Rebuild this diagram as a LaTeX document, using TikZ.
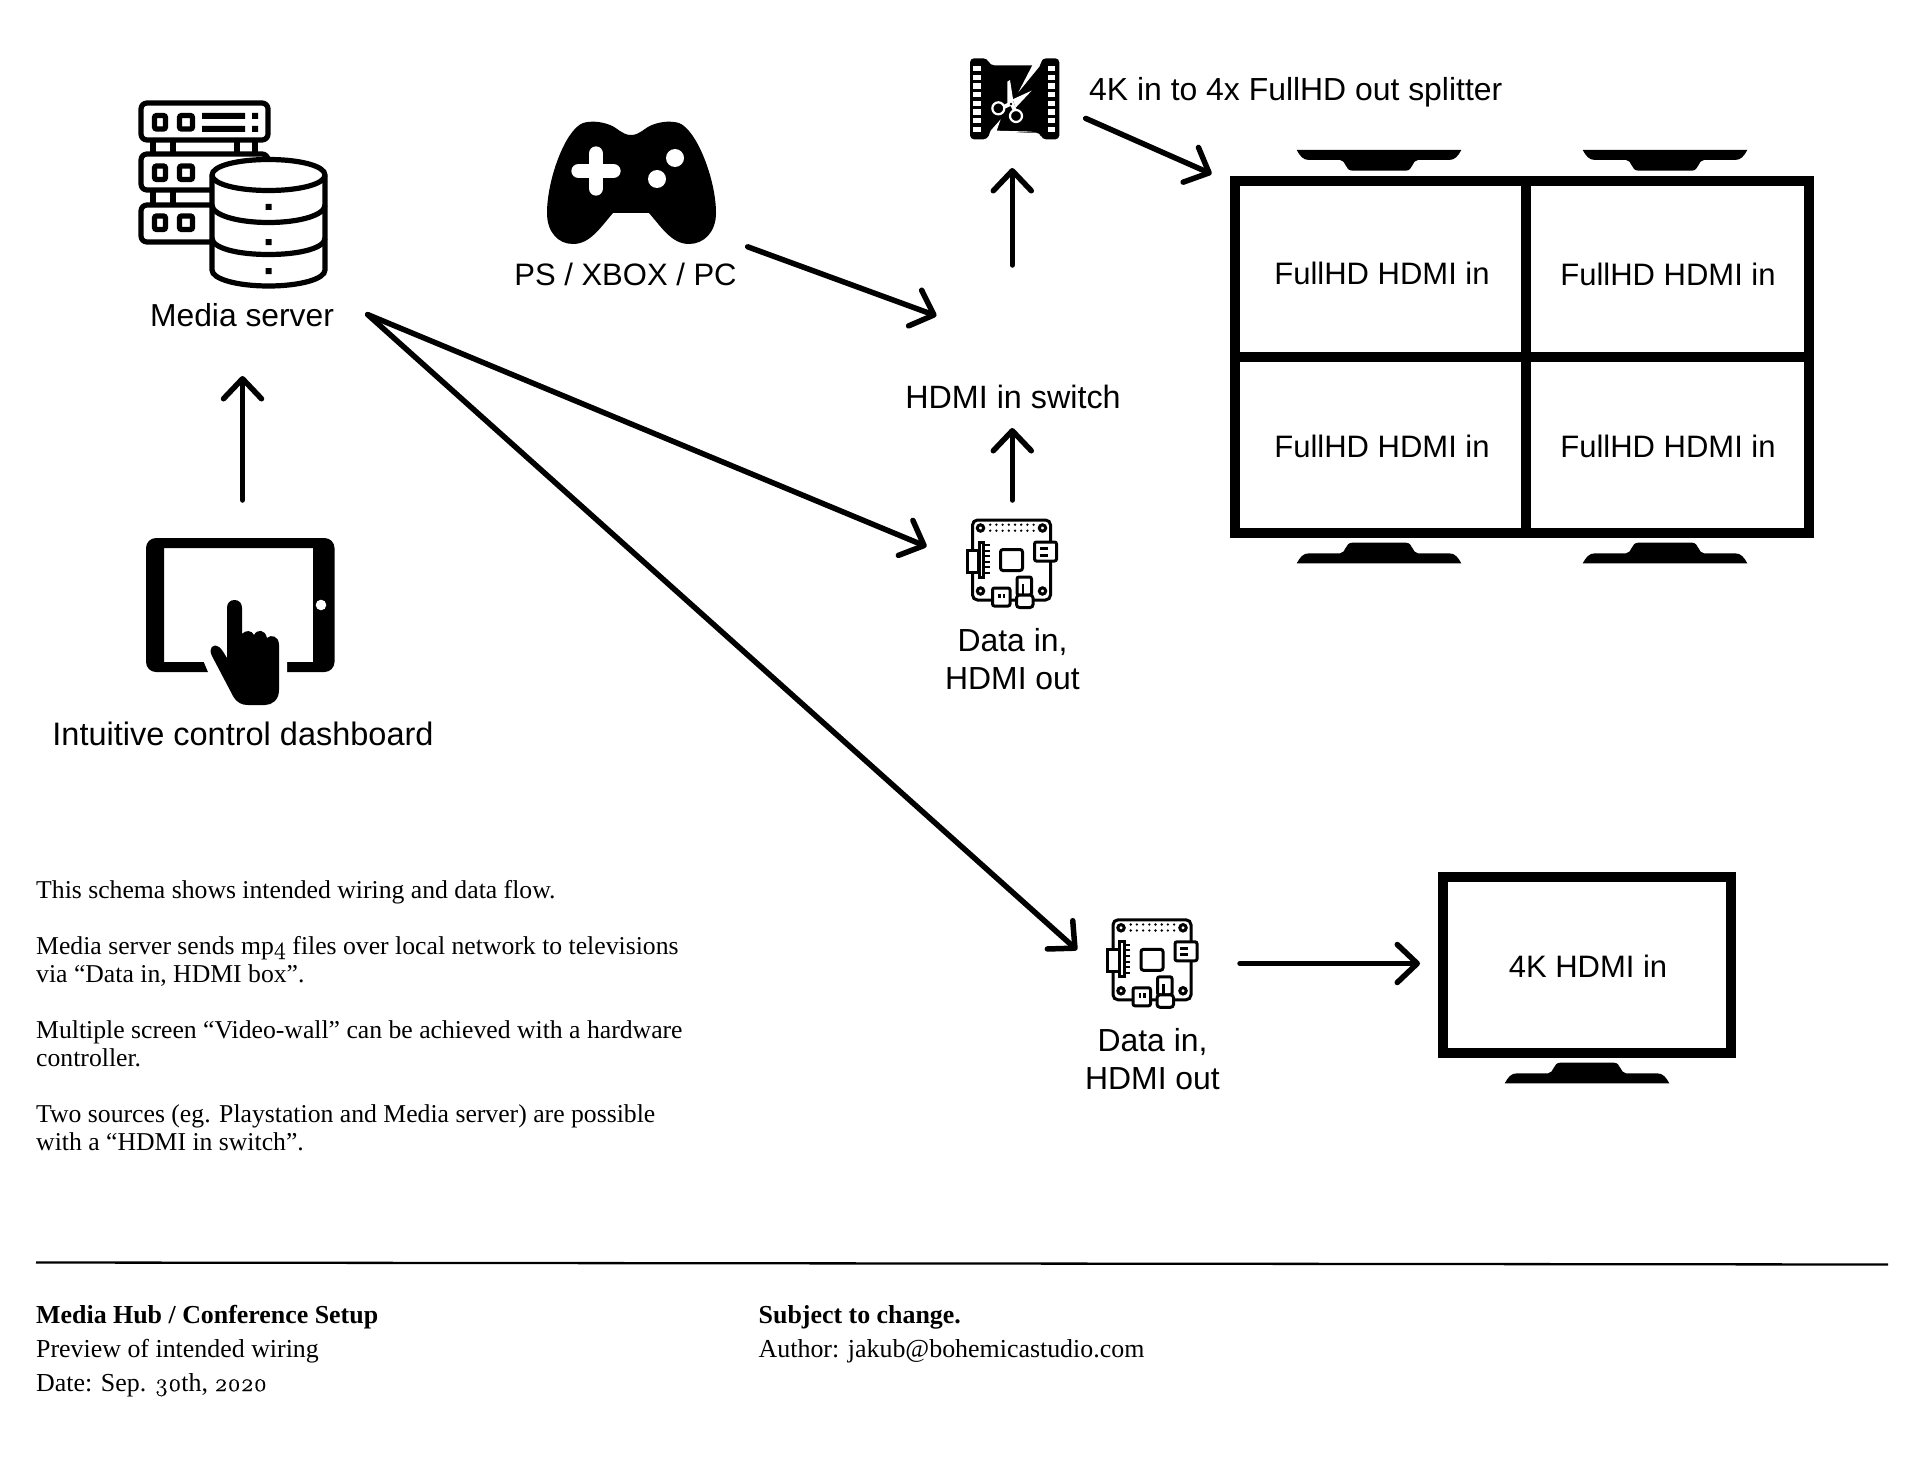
\documentclass[tikz,border=0pt]{standalone}
\usepackage{fontspec}
\setmainfont{Liberation Serif}
\newfontfamily\labelfont{Liberation Sans}
\newfontfamily\oldfig{Latin Modern Roman}[Numbers=OldStyle,FakeBold=0.5,Scale=0.97]
\usetikzlibrary{arrows.meta}
\tikzset{
  lab/.style={font=\labelfont\fontsize{#1}{38}\selectfont,inner sep=0pt,anchor=base,align=center},
  lab/.default=31,
  note/.style={font=\fontsize{25.7}{28}\selectfont,inner sep=0pt,anchor=north west,align=left},
  foot/.style={font=\fontsize{25.9}{34.3}\selectfont,inner sep=0pt,anchor=base west},
  wire/.style={line width=5.5pt,line cap=round,-{Straight Barb[length=20pt,width=38pt,line width=5.5pt,round]}},
  rack/.style={line width=5.2pt,rounded corners=6pt,fill=white},
  stk/.style={line width=5.2pt},
  boardline/.style={line width=3pt,fill=white},
  wallline/.style={line width=10pt},
  stand/.pic={\fill (-82.3,0) .. controls (-79,-6) and (-76,-10) .. (-70,-10) -- (-39,-10) .. controls (-33,-10) and (-34,-20.6) .. (-27,-20.6) -- (27,-20.6) .. controls (34,-20.6) and (33,-10) .. (39,-10) -- (70,-10) .. controls (76,-10) and (79,-6) .. (82.3,0) -- cycle;},
  board/.pic={
    \draw[boardline,rounded corners=5pt] (13,11) rectangle (91,91);
    \foreach \cx/\cy in {21/19,83/19,21/82,83/82}{\draw[line width=3pt] (\cx,\cy) circle (3.2);}
    \foreach \i in {0,...,7}{\fill (30.7+6.2*\i,15.7) circle (1.3); \fill (30.7+6.2*\i,21.7) circle (1.3);}
    \draw[boardline,rounded corners=2.5pt] (41,40.5) rectangle (63,61.5);
    \draw[boardline] (7.5,41) rectangle (19,63);
    \draw[boardline] (19.5,33) rectangle (24,68);
    \foreach \i in {0,...,5}{\draw[line width=2pt] (24,36+5.6*\i) -- (30,36+5.6*\i);}
    \draw[boardline,rounded corners=2pt] (75,33) rectangle (97,52);
    \draw[line width=3pt] (80,39.5) -- (88,39.5) (80,46) -- (88,46);
    \draw[boardline,rounded corners=2pt] (33,79) rectangle (50.5,97);
    \draw[line width=2.4pt] (40,84.5) -- (40,89) (44.5,84.5) -- (44.5,89);
    \draw[boardline,rounded corners=2pt] (57.5,68) rectangle (72,86);
    \draw[line width=2.4pt] (63.5,75) -- (63.5,86);
    \draw[boardline,rounded corners=3pt] (57,86) rectangle (73.5,98.5);
  }
}
\begin{document}
\begin{tikzpicture}[x=1pt,y=-1pt]
\useasboundingbox (0,0) rectangle (1932,1474);

% Media server icon
\draw[rack] (141,103) rectangle (268,140);
\draw[stk] (153,140) -- (153,154) (173,140) -- (173,154) (237,140) -- (237,154) (255,140) -- (255,154);
\draw[stk] (153,190) -- (153,205) (173,190) -- (173,205);
\draw[rack] (141,154) rectangle (268,190);
\draw[rack] (141,205) rectangle (268,242);
\foreach \yy in {115.5,166,216}{
  \draw[stk,rounded corners=2pt] (154.5,\yy) rectangle (165.5,\yy+13.5);
  \draw[stk,rounded corners=2pt] (179.5,\yy) rectangle (192.5,\yy+13.5);
}
\fill (202,113) rectangle (245,119) (202,126) rectangle (245,132);
\fill (252,113) rectangle (258,119) (252,126) rectangle (258,132);
\draw[stk,fill=white] (212,175) .. controls (212,166) and (237,159.5) .. (268.5,159.5) .. controls (300,159.5) and (325,166) .. (325,175) -- (325,270) .. controls (325,279) and (300,286) .. (268.5,286) .. controls (237,286) and (212,279) .. (212,270) -- cycle;
\draw[stk] (212,175) .. controls (212,184) and (237,190.5) .. (268.5,190.5) .. controls (300,190.5) and (325,184) .. (325,175);
\draw[stk] (212,205) .. controls (212,215) and (237,222.5) .. (268.5,222.5) .. controls (300,222.5) and (325,215) .. (325,205);
\draw[stk] (212,238) .. controls (212,248) and (237,254.5) .. (268.5,254.5) .. controls (300,254.5) and (325,248) .. (325,238);
\fill (265.5,204) rectangle (271.5,210) (265.5,239) rectangle (271.5,245) (265.5,268) rectangle (271.5,274);
\node[lab=31.8] (mediaserver) at (242,326.5) {Media server};

% Tablet icon
\fill[even odd rule] (156,538) -- (324.5,538) arc[start angle=-90,end angle=0,radius=10] -- (334.5,662) arc[start angle=0,end angle=90,radius=10] -- (156,672) arc[start angle=90,end angle=180,radius=10] -- (146,548) arc[start angle=180,end angle=270,radius=10] -- cycle (164,548) rectangle (313,662);
\fill[white] (203,660) -- (208.5,673) -- (287,673) -- (287,660) -- cycle;
\fill[white] (321,605) circle (5.3);
\fill (227,608) .. controls (227,603) and (230,600) .. (234.5,600) .. controls (239,600) and (242,603) .. (242,608) -- (242,634) .. controls (245,630) and (252,630) .. (254,635) .. controls (257,629) and (265,629) .. (267,638) .. controls (271,634) and (279,636) .. (279,645) -- (279,690) .. controls (279,700) and (272,705) .. (265,705) -- (248,705) .. controls (242,705) and (237,703) .. (233,696) -- (212,656) .. controls (208,648) and (213,643) .. (219,647) .. controls (222,649) and (225,655) .. (227,658) -- cycle;
\node[lab=32.5] (dashboard) at (243,745) {Intuitive control dashboard};

% Gamepad icon
\fill (631,135) .. controls (622,135) and (618,128) .. (610,125) .. controls (600,121) and (590,121) .. (583,123) .. controls (565,130) and (547,180) .. (547,213) .. controls (547,232) and (558,244) .. (573,244) .. controls (590,244) and (600,228) .. (613,213) -- (649,213) .. controls (662,228) and (672,244) .. (689,244) .. controls (704,244) and (716,232) .. (716,213) .. controls (716,180) and (697,130) .. (679,123) .. controls (672,121) and (662,121) .. (652,125) .. controls (644,128) and (640,135) .. (631,135) -- cycle;
\draw[white,line width=14.7pt,line cap=round] (596,153.7) -- (596,188.3) (578.7,171) -- (613.3,171);
\fill[white] (675,158) circle (9) (657,179) circle (9);
\node[lab] (console) at (625.5,285) {PS / XBOX / PC};

% Film cutter icon
\begin{scope}[shift={(950,40)},scale=0.3333]
  \fill[rounded corners=4pt] (60,55) -- (112,55) -- (120,76) -- (270,76) -- (276,55) -- (328,55) -- (328,298) -- (276,298) -- (270,278) -- (120,278) -- (112,298) -- (60,298) -- cycle;
  \foreach \i in {0,...,7}{
    \fill[white] (70,78+26*\i) rectangle (93,94+26*\i);
    \fill[white] (293,78+26*\i) rectangle (316,94+26*\i);
  }
  \fill[white] (248,74) -- (280,50) -- (268,80) -- (205,157) -- cycle;
  \fill[white] (152,238) -- (122,272) -- (112,300) -- (130,283) -- (248,275) -- (140,272) -- cycle;
  \fill[white] (172,125) -- (180,120) -- (191,190) -- (172,190) -- cycle;
  \fill[white] (245,152) -- (188,178) -- (197,203) -- cycle;
  \draw[white,line width=2.2pt] (145,205) circle (18) (198,228) circle (18);
  \draw[white,line width=4pt] (163,200) -- (185,190) (185,190) -- (195,212);
  \fill (183,192) circle (4);
\end{scope}
\node[lab=31.9,anchor=base west] (splitter) at (1089,101) {4K in to 4x FullHD out splitter};

% Boards
\pic at (959.5,509) {board};
\node[lab=31.9] (data1) at (1012.5,689.5) {Data in,\\HDMI out};
\pic at (1100,908.8) {board};
\node[lab=31.9] (data2) at (1152.5,1089.5) {Data in,\\HDMI out};
\node[lab=32.3] (switch) at (1013,408) {HDMI in switch};

% Video wall
\draw[wallline] (1234.8,180.8) rectangle (1809.2,532.8);
\draw[wallline] (1526,180.8) -- (1526,532.8) (1234.8,357) -- (1809.2,357);
\pic[yscale=-1] at (1379,150) {stand};
\pic[yscale=-1] at (1665,150) {stand};
\pic at (1379,563.3) {stand};
\pic at (1665,563.3) {stand};
\node[lab] (w1) at (1382,284) {FullHD HDMI in};
\node[lab] (w2) at (1668,285.7) {FullHD HDMI in};
\node[lab] (w3) at (1382,457.3) {FullHD HDMI in};
\node[lab] (w4) at (1668,457.3) {FullHD HDMI in};

% Single TV
\draw[wallline] (1442.8,877.3) rectangle (1731.3,1052.8);
\pic at (1587,1083.3) {stand};
\node[lab] (tv) at (1588,977.3) {4K HDMI in};

% Connector ends
\coordinate (dashOut) at (242.5,500);
\coordinate (srvIn) at (242.5,376);
\coordinate (srvOut) at (367.7,314.6);
\coordinate (brdAIn) at (926.6,546.6);
\coordinate (brdBIn) at (1077,950);
\coordinate (gameOut) at (747.7,246.8);
\coordinate (swIn) at (936.5,315.9);
\coordinate (brdAOut) at (1012.3,500);
\coordinate (swBot) at (1012.3,428);
\coordinate (swTop) at (1012.3,265);
\coordinate (filmIn) at (1012.3,168);
\coordinate (filmOut) at (1085.7,118.4);
\coordinate (wallIn) at (1211.6,174);
\coordinate (brdBOut) at (1240,963.5);
\coordinate (tvIn) at (1420,963.5);

\draw[wire] (dashOut) -- (srvIn);
\draw[wire] (srvOut) -- (brdAIn);
\draw[wire] (srvOut) -- (brdBIn);
\draw[wire] (gameOut) -- (swIn);
\draw[wire] (brdAOut) -- (swBot);
\draw[wire] (swTop) -- (filmIn);
\draw[wire] (filmOut) -- (wallIn);
\draw[wire] (brdBOut) -- (tvIn);

% Notes
\node[note] (notes) at (36,880) {This schema shows intended wiring and data flow.\\[28pt]
Media server sends mp{\oldfig 4} files over local network to televisions\\
via “Data in, HDMI box”.\\[28pt]
Multiple screen “Video-wall” can be achieved with a hardware\\
controller.\\[28pt]
Two sources (eg. Playstation and Media server) are possible\\
with a “HDMI in switch”.};

% Footer
\coordinate (ruleL) at (36,1262.5);
\coordinate (ruleR) at (1888,1264.5);
\draw[line width=2.3pt] (ruleL) -- (ruleR);
\node[foot] (f1) at (36,1323.5) {\bfseries Media Hub / Conference Setup};
\node[foot] (f2) at (36,1357.5) {Preview of intended wiring};
\node[foot] (f3) at (36,1391) {Date: Sep. {\oldfig 30}th, {\oldfig 2020}};
\node[foot] (f4) at (758.5,1323.5) {\bfseries Subject to change.};
\node[foot] (f5) at (758.5,1357.5) {Author: jakub@bohemicastudio.com};
\end{tikzpicture}
\end{document}
